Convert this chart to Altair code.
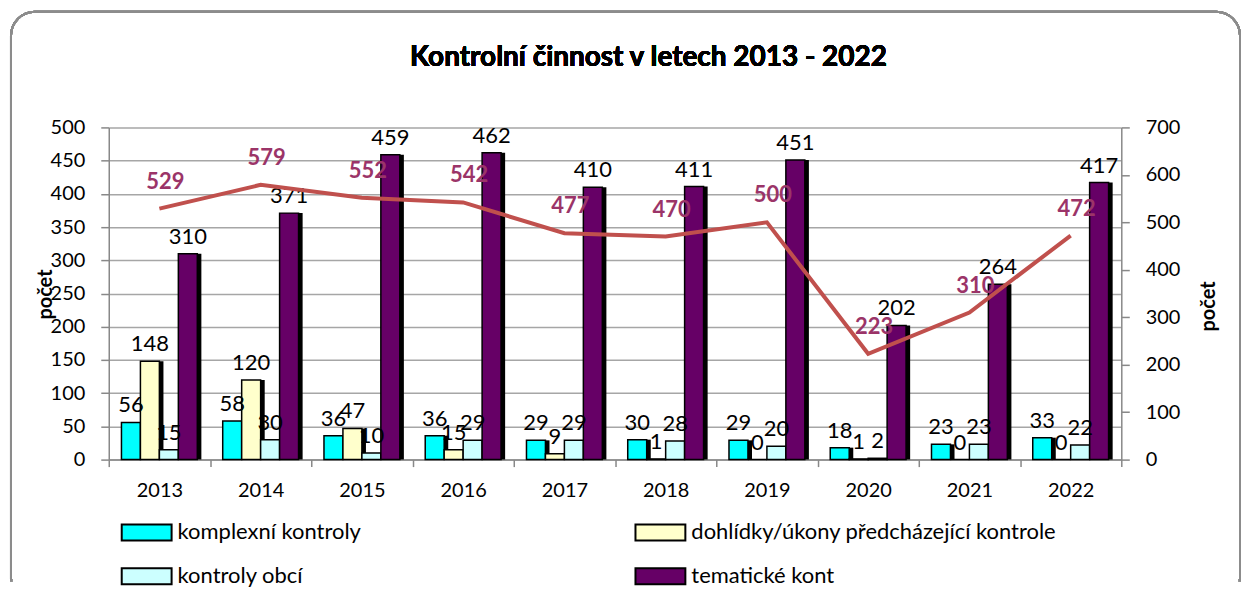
import altair as alt
import pandas as pd

title_text = "Kontrolní činnost v letech 2013 - 2022"
years = ["2013", "2014", "2015", "2016", "2017", "2018", "2019", "2020", "2021", "2022"]
series = ["komplexní kontroly", "dohlídky/úkony předcházející kontrole",
          "kontroly obcí", "tematické kont"]
komplexni = [56, 58, 36, 36, 29, 30, 29, 18, 23, 33]
dohlidky = [148, 120, 47, 15, 9, 1, 0, 1, 0, 0]
obce = [15, 30, 10, 29, 29, 28, 20, 2, 23, 22]
tematicke = [310, 371, 459, 462, 410, 411, 451, 202, 264, 417]
celkem = [529, 579, 552, 542, 477, 470, 500, 223, 310, 472]
colors = ["#00ffff", "#ffffcc", "#ccffff", "#660066"]

FONT = "Lato"

rows = []
for s, vals in zip(series, [komplexni, dohlidky, obce, tematicke]):
    for y, v in zip(years, vals):
        rows.append({"rok": y, "serie": s, "hodnota": v})
bars_df = pd.DataFrame(rows)
line_df = pd.DataFrame({"rok": years, "celkem": celkem})

x_scale = alt.Scale(domain=years, paddingInner=0, paddingOuter=0)
y_scale = alt.Scale(domain=[0, 500], nice=False)
off_scale = alt.Scale(domain=series, paddingInner=0, paddingOuter=0.67)
shadow_scale = alt.Scale(domain=series, paddingInner=0, paddingOuter=0.67, align=0.66)

x_axis = alt.Axis(title=None, labelFontSize=20, labelFont=FONT, labelColor="black",
                  tickBand="extent", tickSize=7, tickColor="#888888", tickWidth=1.5,
                  domainColor="#888888", domainWidth=1.5, labelPadding=14, labelAngle=0,
                  grid=False)
y_axis = alt.Axis(title="počet", values=list(range(0, 501, 50)), labelFontSize=20,
                  labelFont=FONT, labelColor="black", tickSize=8, tickColor="#888888",
                  tickWidth=1.5, domainColor="#888888", domainWidth=1.5,
                  grid=True, gridColor="#a6a6a6", gridWidth=1.5, labelPadding=16,
                  titleFont=FONT, titleFontSize=20, titleFontWeight="bold",
                  titleColor="black", titleX=-63, titleY=167, titleAngle=-90,
                  titleAlign="center", titleBaseline="middle")

border = alt.Chart(line_df).mark_rect(
    fill="transparent", stroke="#8c8c8c", strokeWidth=2,
    cornerRadiusTopLeft=24, cornerRadiusTopRight=24
).encode(
    x=alt.value(-98), x2=alt.value(1134), y=alt.value(-116), y2=alt.value(454)
)
border_cut = alt.Chart(line_df).mark_rule(color="white", strokeWidth=4).encode(
    x=alt.value(-96), x2=alt.value(1132), y=alt.value(454)
)
title = alt.Chart(line_df).mark_text(
    font=FONT, fontSize=28, fontWeight="bold", color="black",
    align="center", baseline="middle"
).encode(x=alt.value(541), y=alt.value(-70), text=alt.value(title_text))

# shadow has its own (independent) y scale with the same domain, so its axis is hidden
shadow = alt.Chart(bars_df).mark_bar(color="black").encode(
    x=alt.X("rok:N", scale=x_scale, axis=x_axis),
    xOffset=alt.XOffset("serie:N", scale=shadow_scale),
    y=alt.Y("hodnota:Q", scale=y_scale, axis=None),
)

bars = alt.Chart(bars_df).mark_bar(stroke="black", strokeWidth=1.5).encode(
    x=alt.X("rok:N", scale=x_scale, axis=x_axis),
    xOffset=alt.XOffset("serie:N", scale=off_scale),
    y=alt.Y("hodnota:Q", scale=y_scale, axis=y_axis),
    color=alt.Color("serie:N", scale=alt.Scale(domain=series, range=colors),
                    legend=alt.Legend(orient="none", legendX=27, legendY=395,
                                      columns=2, direction="horizontal", title=None,
                                      symbolType="M-2.5,-0.8H2.5V0.8H-2.5Z",
                                      symbolSize=400, symbolStrokeColor="black",
                                      symbolStrokeWidth=2, symbolOpacity=1,
                                      labelFont=FONT, labelFontSize=22,
                                      labelColor="black", labelLimit=600,
                                      labelOffset=20, columnPadding=271,
                                      rowPadding=20)),
)

bar_labels = alt.Chart(bars_df).mark_text(
    font=FONT, fontSize=22, color="black", baseline="bottom", dy=-5
).encode(
    x=alt.X("rok:N", scale=x_scale, axis=x_axis),
    xOffset=alt.XOffset("serie:N", scale=off_scale),
    y=alt.Y("hodnota:Q", scale=y_scale, axis=y_axis),
    text=alt.Text("hodnota:Q"),
)

left = alt.layer(bars, bar_labels)

y2_scale = alt.Scale(domain=[0, 700], nice=False)
y2_axis = alt.Axis(title="počet", orient="right", values=list(range(0, 701, 100)),
                   grid=False, labelFontSize=20, labelFont=FONT, labelColor="black",
                   tickSize=8, tickColor="#888888", tickWidth=1.5,
                   domainColor="#888888", domainWidth=1.5, labelPadding=16,
                   titleFont=FONT, titleFontSize=20, titleFontWeight="bold",
                   titleColor="black", titleX=87, titleY=179, titleAngle=-90,
                   titleAlign="center", titleBaseline="middle")

line = alt.Chart(line_df).mark_line(color="#c0504d", strokeWidth=4).encode(
    x=alt.X("rok:N", scale=x_scale, axis=x_axis),
    y=alt.Y("celkem:Q", scale=y2_scale, axis=y2_axis),
)
line_labels = alt.Chart(line_df).mark_text(
    font=FONT, fontSize=22, fontWeight="bold", color="#9b3468", dy=-27, dx=6
).encode(
    x=alt.X("rok:N", scale=x_scale, axis=x_axis),
    y=alt.Y("celkem:Q", scale=y2_scale, axis=y2_axis),
    text=alt.Text("celkem:Q"),
)
right = alt.layer(line, line_labels)

chart = alt.layer(border, border_cut, title, shadow, left, right).resolve_scale(
    y="independent", xOffset="independent"
).properties(
    width=1015,
    height=333,
    padding=2,
).configure_view(strokeWidth=0)

chart.save("out.html", embed_options={"renderer": "svg", "actions": False})
